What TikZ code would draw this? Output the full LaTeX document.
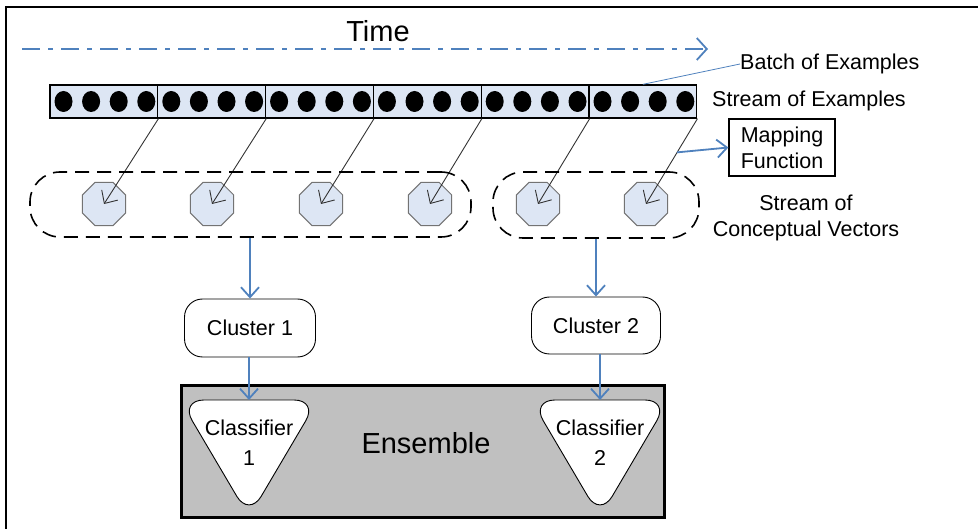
\documentclass[tikz,border=0pt]{standalone}
\usepackage{fontspec}
\setmainfont{Liberation Sans}
\usetikzlibrary{arrows.meta,shapes.geometric,calc}
\definecolor{oblue}{RGB}{79,129,189}
\definecolor{lblue}{RGB}{221,230,244}
\definecolor{egray}{RGB}{192,192,192}
\begin{document}
\begin{tikzpicture}[x=1pt,y=-1pt,
  txt/.style={font=\fontsize{21.5}{26}\selectfont, inner sep=0pt, align=center},
  big/.style={font=\fontsize{29}{34}\selectfont, inner sep=0pt},
  batch/.style={draw, line width=1.3pt, fill=lblue, minimum width=107.8pt, minimum height=33pt, inner sep=0pt},
  oct/.style={regular polygon, regular polygon sides=8, draw=black!55, fill=lblue, minimum size=47pt, inner sep=0pt, line width=1pt},
  grp/.style={draw, dash pattern=on 14pt off 8pt, line width=1.6pt, rounded corners=30pt, inner sep=0pt},
  bluearr/.style={draw=oblue, line width=1.8pt, -{Straight Barb[length=10pt,width=18pt,line width=1.8pt]}},
  blackarr/.style={draw=black!80, line width=0.9pt, -{Straight Barb[length=10pt,width=19pt,line width=0.9pt]}},
  clus/.style={draw, rounded corners=18pt, fill=white, line width=0.9pt, inner sep=0pt, font=\fontsize{21.5}{26}\selectfont},
  tri/.style={draw, fill=white, rounded corners=24pt, line width=0.9pt}
]
\useasboundingbox (0,0) rectangle (978,529);
% frame
\draw[line width=2pt] (6,529) -- (6,7) -- (978,7);
% time
\node[big] (time) at (378,31) {Time};
\coordinate (ts) at (22,49);
\coordinate (te) at (708,49);
\draw[draw=oblue, line width=2.6pt, dash pattern=on 18pt off 8pt on 5pt off 8pt,
  -{Straight Barb[length=10pt,width=22pt,line width=1.8pt]}] (ts) -- (te);
% stream of batches
\foreach \i in {1,...,6}{
  \node[batch] (b\i) at ({50+107.8*(\i-0.5)},101.5) {};
  \foreach \k in {0,1,2,3}{
    \fill ({50+107.8*(\i-1)+13.5+27.6*\k},101.5) ellipse [x radius=9pt, y radius=10.5pt];
  }
}
\node[txt, anchor=west] (boe) at (740,64) {Batch of Examples};
\draw[draw=oblue, line width=0.8pt] (b6.north) -- (boe.west);
\node[txt, anchor=west] (soe) at (712,101) {Stream of Examples};
% octagons
\node[oct] (o1) at (104,204) {};
\node[oct] (o2) at (212,204) {};
\node[oct] (o3) at (321,204) {};
\node[oct] (o4) at (430,204) {};
\node[oct] (o5) at (538,204) {};
\node[oct] (o6) at (646,204) {};
\draw[blackarr] (b1.south east) -- (o1.center);
\draw[blackarr] (b2.south east) -- (o2.center);
\draw[blackarr] (b3.south east) -- (o3.center);
\draw[blackarr] (b4.south east) -- (o4.center);
\draw[blackarr] (b5.south east) -- (o5.center);
\draw[blackarr] (b6.south east) -- (o6.center);
% groups
\node[grp, minimum width=441pt, minimum height=65pt] (g1) at (250.5,204.5) {};
\node[grp, minimum width=206pt, minimum height=66pt] (g2) at (596,205) {};
% mapping function
\node[draw, line width=1.3pt, minimum width=106pt, minimum height=57pt, inner sep=0pt, txt] (mf) at (782,147.5) {Mapping\\Function};
\coordinate (mfs) at ($(b6.south east)!0.395!(o6.center)$);
\draw[bluearr] (mfs) -- (mf.west);
\node[txt] (scv) at (806,218) {Stream of\\Conceptual Vectors};
% clusters
\node[clus, minimum width=131pt, minimum height=58pt] (c1) at (250,328) {Cluster 1};
\node[clus, minimum width=129pt, minimum height=57pt] (c2) at (596,325.5) {Cluster 2};
\draw[bluearr] (g1.south -| c1) -- (c1.north);
\draw[bluearr] (g2.south -| c2) -- (c2.north);
% ensemble
\node[draw, line width=3pt, fill=egray, minimum width=483pt, minimum height=131pt, inner sep=0pt] (ens) at (422.5,451.5) {};
\node[big] (enst) at (426,443) {Ensemble};
\coordinate (k1t) at (249,400);
\coordinate (k2t) at (600,400);
\draw[tri] (180,400) -- (318,400) -- (249,517) -- cycle;
\draw[tri] (531,400) -- (669,400) -- (600,517) -- cycle;
\node[txt, font=\fontsize{21.5}{30}\selectfont] (k1) at (249,443) {Classifier\\1};
\node[txt, font=\fontsize{21.5}{30}\selectfont] (k2) at (600,443) {Classifier\\2};
\draw[bluearr] (c1.south -| k1t) -- (k1t);
\draw[bluearr] (c2.south -| k2t) -- (k2t);
\end{tikzpicture}
\end{document}
